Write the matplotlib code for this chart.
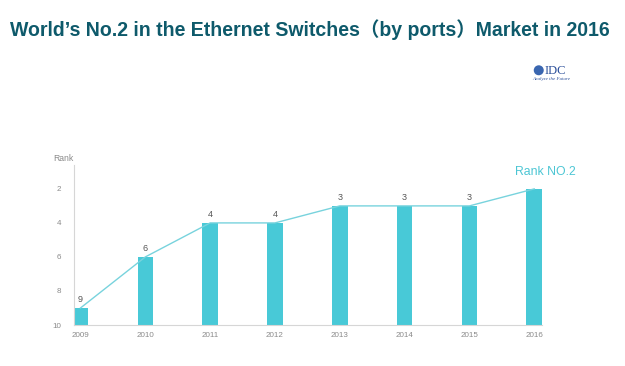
import matplotlib
matplotlib.use("Agg")
import matplotlib.pyplot as plt
from matplotlib.patches import Ellipse

years = ["2009", "2010", "2011", "2012", "2013", "2014", "2015", "2016"]
ranks = [9, 6, 4, 4, 3, 3, 3, 2]
value_labels = ["9", "6", "4", "4", "3", "3", "3", "Rank NO.2"]
yticks = [2, 4, 6, 8, 10]

title = "World’s No.2 in the Ethernet Switches（by ports）Market in 2016"

BAR = "#48c9d7"
LINE = "#78d3dd"
TEAL_TXT = "#4cc6d4"
GRAY = "#8a8a8a"
TITLE_C = "#0e5a6b"

plt.rcParams['font.family'] = ['Liberation Sans', 'Noto Sans CJK SC', 'DejaVu Sans']

fig = plt.figure(figsize=(6.25, 3.66), dpi=100)
fig.patch.set_facecolor("white")

fig.text(0.016, 0.918, title, fontsize=14.05, fontweight="bold", color=TITLE_C,
         ha="left", va="center")

# IDC logo (text)
fig.text(0.872, 0.807, "IDC", fontsize=9, color="#2b4f9a", family="Liberation Serif",
         ha="left", va="center")
fig.text(0.851, 0.783, "Analyze the Future", fontsize=3.6, color="#2b4f9a",
         family="Liberation Serif", style="italic", ha="left", va="center")
fig.patches.append(Ellipse((0.862, 0.808), 0.016, 0.016 * 625 / 366,
                           transform=fig.transFigure,
                           facecolor="#3a66b0", edgecolor="none", figure=fig))

ax = fig.add_axes([0.1184, 0.112, 0.7488, 0.437])
x = list(range(len(years)))
ax.bar(x, [r - 10 for r in ranks], bottom=10, width=0.24, color=BAR, zorder=2)
ax.plot(x, ranks, color=LINE, lw=1.0, zorder=3)

for xi, r, lab in zip(x, ranks, value_labels):
    if lab.startswith("Rank"):
        ax.annotate(lab, (xi, r), xytext=(8, 8), textcoords="offset points",
                    ha="center", va="bottom", fontsize=8.8, color=TEAL_TXT)
    else:
        ax.annotate(lab, (xi, r), xytext=(0, 3), textcoords="offset points",
                    ha="center", va="bottom", fontsize=6.5, color="#555555")

ax.set_xlim(-0.1, 7.12)
ax.set_ylim(10, 0.6)
ax.set_yticks(yticks)
ax.set_yticklabels([str(t) for t in yticks])
ax.set_xticks(x)
ax.set_xticklabels(years)
ax.tick_params(axis="both", length=0, labelsize=5.8, labelcolor=GRAY)
ax.tick_params(axis="y", pad=9)
ax.tick_params(axis="x", pad=5)
for s in ["top", "right"]:
    ax.spines[s].set_visible(False)
for s in ["left", "bottom"]:
    ax.spines[s].set_color("#d6d6d6")
    ax.spines[s].set_linewidth(0.8)
ax.text(0.0, 1.01, "Rank", transform=ax.transAxes, fontsize=6.2, color=GRAY,
        ha="right", va="bottom")

fig.savefig("out.png", dpi=100, facecolor="white")
